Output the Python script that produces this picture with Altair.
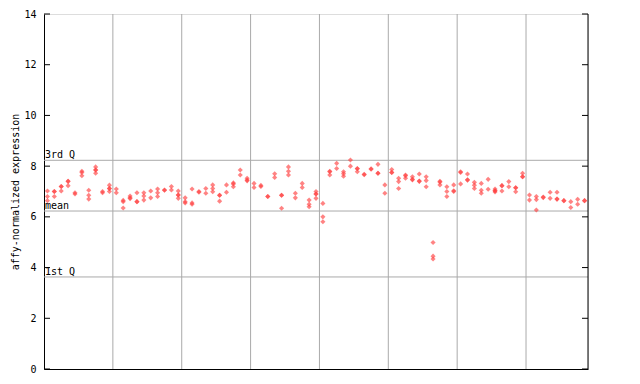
import altair as alt
import pandas as pd

# expression values per sample column (replicates)
col_values = [
    [7.02, 6.80, 6.64], [7.0, 7.0, 6.8], [7.2, 7.2, 7.02], [7.4, 7.4, 7.23], [6.95, 6.9],
    [7.8, 7.75, 7.62], [7.05, 6.85, 6.7], [7.97, 7.85, 7.85, 7.72], [7.0, 6.95], [7.25, 7.12, 7.12, 7.0],
    [7.1, 6.95], [6.65, 6.6, 6.35], [6.82, 6.75, 6.72], [6.95, 6.6, 6.6], [6.95, 6.82, 6.66],
    [7.02, 6.75], [7.1, 6.95, 6.8], [7.06, 7.05], [7.2, 7.06], [7.02, 6.86, 6.86, 6.73],
    [6.75, 6.6, 6.55], [7.1, 6.55, 6.5], [7.0, 6.97], [7.12, 6.93], [7.26, 7.12, 6.99],
    [6.85, 6.85, 6.62], [7.26, 6.97], [7.34, 7.3, 7.19], [7.85, 7.65], [7.52, 7.45, 7.42],
    [7.32, 7.16], [7.24, 7.2], [6.8, 6.8], [7.7, 7.55], [6.85, 6.85, 6.34],
    [7.97, 7.8, 7.65], [6.93, 6.75], [7.32, 7.16], [6.66, 6.5, 6.4], [7.0, 6.9, 6.9, 6.73],
    [6.53, 6.0, 5.81], [7.8, 7.78, 7.65], [8.11, 7.91], [7.78, 7.7, 7.6], [8.24, 8.0],
    [7.91, 7.9, 7.78], [7.68, 7.66], [7.9, 7.88], [8.07, 7.72, 7.72], [7.26, 6.93],
    [7.87, 7.75, 7.75], [7.52, 7.39, 7.12], [7.65, 7.62, 7.52], [7.58, 7.48, 7.46], [7.69, 7.41, 7.4],
    [7.58, 7.43, 7.19], [4.99, 4.45, 4.34], [7.4, 7.37, 7.26], [7.19, 7.0, 6.8], [7.26, 7.03, 7.0],
    [7.78, 7.75, 7.3], [7.69, 7.46, 7.45], [7.36, 7.25, 7.12], [7.32, 7.05, 6.93], [7.48, 7.09],
    [7.1, 7.03, 7.03, 6.98], [7.23, 7.23, 7.02], [7.39, 7.19], [7.15, 7.15, 6.99], [7.72, 7.58, 7.58],
    [6.86, 6.66], [6.8, 6.68, 6.27], [6.78, 6.76], [6.97, 6.73], [6.97, 6.7, 6.7],
    [6.64, 6.64], [6.6, 6.37], [6.69, 6.5], [6.64, 6.64],
]
n_cols = len(col_values)

grid_x = [10, 20, 30, 40, 50, 60, 70]
y_ticks = [0, 2, 4, 6, 8, 10, 12, 14]
ref_names = ["3rd Q", "mean", "1st Q"]
ref_values = [8.23, 6.23, 3.63]

rows = []
for i, vals in enumerate(col_values):
    for v in vals:
        rows.append({"x": i + 0.5, "y": v})
pts = pd.DataFrame(rows)

xs = alt.Scale(domain=[0, n_cols], nice=False, zero=False)
ys = alt.Scale(domain=[0, 14], nice=False)

mono = "DejaVu Sans Mono"

vgrid = alt.Chart(pd.DataFrame({"x": grid_x})).mark_rule(color="#aaaaaa", strokeWidth=1).encode(
    x=alt.X("x:Q", scale=xs, axis=alt.Axis(title=None, labels=False, ticks=False, grid=False,
                                            domain=True, domainColor="black", domainWidth=1))
)
refs = pd.DataFrame({"name": ref_names, "y": ref_values})
hgrid = alt.Chart(refs).mark_rule(color="#aaaaaa", strokeWidth=1).encode(
    y=alt.Y("y:Q", scale=ys,
            axis=alt.Axis(title="affy-normalized expression", values=y_ticks, grid=False, ticks=False,
                          domain=True, domainColor="black", domainWidth=1, labelFont=mono,
                          labelFontSize=10, labelColor="black", labelPadding=8,
                          titleFont=mono, titleFontSize=10, titleFontWeight="normal",
                          titleColor="black", titlePadding=3))
)
ref_text = alt.Chart(refs).mark_text(align="left", baseline="bottom", font=mono, fontSize=10,
                                     color="black", dx=1, dy=0).encode(
    x=alt.value(0), y=alt.Y("y:Q", scale=ys), text="name:N"
)
tick_df = pd.DataFrame({"y": y_ticks})
lticks = alt.Chart(tick_df).mark_rule(color="black").encode(
    y=alt.Y("y:Q", scale=ys), x=alt.value(0), x2=alt.value(6)
)
rticks = alt.Chart(tick_df).mark_rule(color="black").encode(
    y=alt.Y("y:Q", scale=ys), x=alt.value(538), x2=alt.value(544)
)
rborder = alt.Chart(pd.DataFrame({"x": [n_cols]})).mark_rule(color="black").encode(
    x=alt.X("x:Q", scale=xs), y=alt.value(0), y2=alt.value(355)
)
points = alt.Chart(pts).mark_point(shape="diamond", filled=True, size=26, color="#ff4040",
                                   opacity=0.65).encode(
    x=alt.X("x:Q", scale=xs), y=alt.Y("y:Q", scale=ys)
)

chart = alt.layer(vgrid, hgrid, ref_text, lticks, rticks, rborder, points).properties(
    width=544, height=355,
    autosize=alt.AutoSizeParams(type="none"),
    padding={"left": 36, "top": 6, "right": 44, "bottom": 7},
).configure_view(stroke=None).configure(background="white")

chart.save("out.html", embed_options={"renderer": "svg", "actions": False})
